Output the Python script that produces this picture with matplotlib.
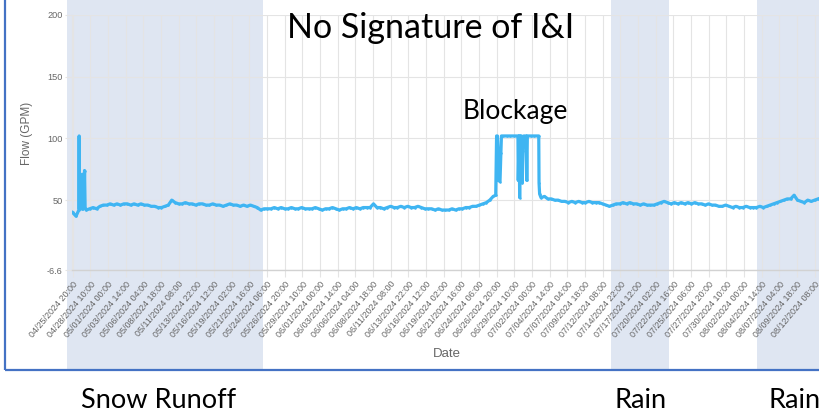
import matplotlib
matplotlib.use('Agg')
import matplotlib.pyplot as plt
from matplotlib.patches import Rectangle
from matplotlib.transforms import blended_transform_factory
import matplotlib.dates as mdates
import pandas as pd

# ---------------- data ----------------
base_start = '2024-04-25 20:00'   # 12-hour samples
base_flow = [
    40, 37, 43, 43, 42, 43, 44, 43, 45, 46,
    46, 47, 46, 47, 46, 47, 47, 46, 47, 46,
    47, 46, 46, 45, 45, 44, 44, 45, 46, 50,
    48, 47, 47, 48, 47, 47, 46, 47, 47, 46,
    46, 47, 46, 46, 45, 46, 47, 46, 46, 45,
    46, 45, 46, 45, 44, 42, 43, 43, 43, 44,
    43, 44, 43, 43, 44, 43, 43, 44, 43, 43,
    43, 44, 43, 42, 43, 43, 44, 43, 42, 43,
    43, 44, 43, 44, 43, 44, 44, 44, 47, 44,
    44, 43, 44, 45, 44, 44, 45, 44, 45, 44,
    44, 45, 44, 43, 43, 43, 42, 43, 42, 42,
    42, 43, 42, 43, 43, 44, 44, 45, 45, 46,
    47, 48, 50, 53, 102, 65, 102, 102, 102, 102,
    102, 73, 102, 102, 102, 102, 102, 52, 53, 51,
    51, 50, 50, 49, 49, 48, 49, 48, 49, 48,
    48, 49, 48, 48, 48, 47, 46, 45, 46, 47,
    47, 48, 47, 48, 47, 47, 46, 47, 46, 46,
    46, 47, 48, 49, 48, 47, 48, 47, 48, 47,
    48, 47, 48, 47, 47, 46, 47, 46, 46, 45,
    45, 46, 45, 44, 45, 44, 44, 45, 44, 44,
    44, 45, 44, 45, 46, 47, 48, 49, 50, 51,
    51, 54, 50, 49, 48, 50, 49, 50, 51,
]
event_times = [
    '2024-04-26 18:00', '2024-04-26 19:00',
    '2024-04-27 05:00', '2024-04-27 06:00', '2024-04-27 07:00',
    '2024-04-27 10:00', '2024-04-27 12:00', '2024-04-27 14:00', '2024-04-27 16:00',
    '2024-06-26 17:00', '2024-06-26 23:00', '2024-06-27 01:00', '2024-06-27 03:00',
    '2024-06-27 11:00', '2024-06-27 13:00',
    '2024-06-29 23:00', '2024-06-30 00:00', '2024-06-30 03:00', '2024-06-30 05:00',
    '2024-06-30 07:00', '2024-06-30 11:00', '2024-06-30 14:00', '2024-06-30 17:00',
    '2024-06-30 19:00', '2024-07-01 04:00', '2024-07-01 06:00',
    '2024-07-03 00:00', '2024-07-03 01:00', '2024-07-03 03:00',
]
event_flow = [
    42, 102,
    43, 71, 44,
    60, 45, 74, 44,
    54, 102, 90, 66,
    88, 102,
    102, 66, 102, 52,
    102, 102, 64, 90,
    102, 102, 66,
    102, 64, 55,
]

tick_start = '2024-04-25 20:00'
tick_step = '62h'
n_ticks = 43
y_ticks = [-6.6, 50, 100, 150, 200]
y_tick_labels = ['-6.6', '50', '100', '150', '200']
x_range = ('2024-04-25 19:00', '2024-08-13 03:00')

shade_periods = [('2024-04-25 01:30', '2024-05-23 17:00'),
                 ('2024-07-13 14:00', '2024-07-22 02:00'),
                 ('2024-08-03 22:00', '2024-08-15 00:00')]

title_text = 'No Signature of I&I'
blockage_text = 'Blockage'
bottom_labels = ['Snow Runoff', 'Rain', 'Rain']

# ---------------- figure ----------------
W, H = 820, 418
fig = plt.figure(figsize=(W / 100, H / 100), dpi=100)
fig.patch.set_facecolor('white')

ax_l, ax_top, ax_bot = 72.3, 15, 270
ax = fig.add_axes([ax_l / W, 1 - ax_bot / H, 1 - ax_l / W, (ax_bot - ax_top) / H])
ax.patch.set_facecolor('none')

t_base = pd.date_range(base_start, periods=len(base_flow), freq='12h')
series = pd.concat([pd.Series(base_flow, index=t_base),
                    pd.Series(event_flow, index=pd.to_datetime(event_times))]).sort_index()

line_color = '#3fb5f2'
ax.plot(series.index, series.values, color=line_color, lw=2.3, marker='o', ms=1.8,
        mew=0, zorder=3, solid_joinstyle='round')

ax.set_ylim(-6.6, 200)
ax.set_xlim(pd.Timestamp(x_range[0]), pd.Timestamp(x_range[1]))

ticks = pd.date_range(tick_start, periods=n_ticks, freq=tick_step)
ax.set_xticks(ticks)
ax.set_xticklabels([t.strftime('%m/%d/%Y %H:%M') for t in ticks], rotation=50,
                   ha='right', va='top', rotation_mode='anchor', fontsize=6.5,
                   color='#666666', family='Liberation Sans')
ax.set_yticks(y_ticks)
ax.set_yticklabels(y_tick_labels, fontsize=6.6, color='#666666', family='Liberation Sans')

grid_c = '#e4e4e4'
ax.grid(True, color=grid_c, lw=0.8, zorder=1)
ax.set_axisbelow(True)
ax.tick_params(axis='both', length=5, width=0.8, color=grid_c, pad=2)
for s in ['top', 'right']:
    ax.spines[s].set_visible(False)
ax.spines['left'].set_color(grid_c)
ax.spines['bottom'].set_color('#d2d2d2')
ax.spines['left'].set_linewidth(0.8)
ax.spines['bottom'].set_linewidth(1.0)

# shaded periods (overlay boxes spanning the whole framed area)
btrans = blended_transform_factory(ax.transData, fig.transFigure)
frame_bottom = 1 - 370 / H
for a, b in shade_periods:
    x0 = mdates.date2num(pd.Timestamp(a))
    x1 = mdates.date2num(pd.Timestamp(b))
    r = Rectangle((x0, frame_bottom), x1 - x0, 1 - frame_bottom, transform=btrans,
                  facecolor='#dfe6f2', edgecolor='none', zorder=-1)
    fig.add_artist(r)

# frame
frame = Rectangle((5 / W, frame_bottom), 2, 1.2, transform=fig.transFigure,
                  fill=False, edgecolor='#4472c4', lw=1.6, zorder=5)
fig.add_artist(frame)

# axis titles
fig.text(27 / W, 1 - 133 / H, 'Flow (GPM)', rotation=90, ha='center', va='center',
         fontsize=8.5, color='#666666', family='Liberation Sans')
fig.text(447 / W, 1 - 354 / H, 'Date', ha='center', va='center',
         fontsize=9.5, color='#666666', family='Liberation Sans')

# annotations
fig.text(431 / W, 1 - 28 / H, title_text, ha='center', va='center', fontsize=24.5,
         family='Lato', color='black')
fig.text(515 / W, 1 - 112 / H, blockage_text, ha='center', va='center', fontsize=19,
         family='Lato', color='black')
for lbl, xp in zip(bottom_labels, [159, 641, 795]):
    fig.text(xp / W, 1 - 400 / H, lbl, ha='center', va='center', fontsize=19.5,
             family='Lato', color='black')

fig.savefig('out.png', dpi=100)
